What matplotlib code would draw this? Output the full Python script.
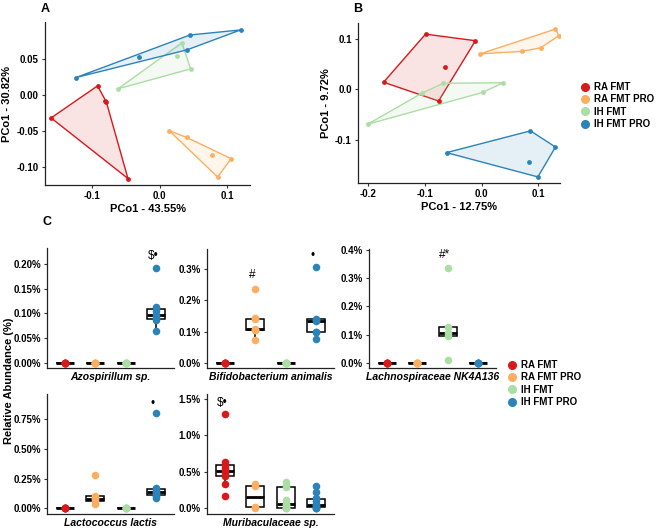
import matplotlib
matplotlib.use('Agg')
import matplotlib.pyplot as plt
from matplotlib.lines import Line2D
from matplotlib.patches import Polygon
from matplotlib.ticker import FuncFormatter
import numpy as np

plt.rcParams['font.family'] = ['Liberation Sans', 'DejaVu Sans']
plt.rcParams['font.weight'] = 'bold'

W, H = 657, 530

groups = ['RA FMT', 'RA FMT PRO', 'IH FMT', 'IH FMT PRO']
colors = ['#d7191c', '#fdae61', '#abdda4', '#2b83ba']

# PCoA panel A (one list per group, same order as groups)
pcoa_a_x = [
    [-0.161, -0.092, -0.081, -0.079, -0.047],
    [0.014, 0.040, 0.077, 0.106, 0.086],
    [-0.062, 0.033, 0.026, 0.046],
    [-0.124, -0.031, 0.045, 0.120, 0.041],
]
pcoa_a_y = [
    [-0.032, 0.0125, -0.008, -0.010, -0.116],
    [-0.0495, -0.059, -0.084, -0.0885, -0.114],
    [0.0083, 0.072, 0.054, 0.036],
    [0.024, 0.052, 0.083, 0.090, 0.0625],
]

# PCoA panel B
pcoa_b_x = [
    [-0.099, -0.011, -0.173, -0.076, -0.064],
    [-0.003, 0.071, 0.104, 0.130, 0.136],
    [-0.201, -0.068, 0.038, 0.002, -0.106],
    [-0.062, 0.086, 0.130, 0.099, 0.083],
]
pcoa_b_y = [
    [0.109, 0.096, 0.014, -0.023, 0.045],
    [0.070, 0.075, 0.082, 0.119, 0.106],
    [-0.069, 0.012, 0.013, -0.006, -0.008],
    [-0.125, -0.082, -0.114, -0.173, -0.143],
]

# relative abundance (%) per taxon, groups in order
taxa = ['Azospirillum sp.', 'Bifidobacterium animalis', 'Lachnospiraceae NK4A136',
        'Lactococcus lactis', 'Muribaculaceae sp.']
azospirillum = [[0.0] * 6, [0.0] * 6, [0.0] * 6,
                [0.065, 0.087, 0.090, 0.097, 0.105, 0.114, 0.191]]
bifidobacterium = [[0.0] * 6, [0.074, 0.104, 0.105, 0.107, 0.140, 0.142, 0.236],
                   [0.0] * 6, [0.076, 0.099, 0.100, 0.135, 0.138, 0.141, 0.305]]
lachnospiraceae = [[0.0] * 6, [0.0] * 6, [0.010, 0.096, 0.105, 0.127, 0.336], [0.0] * 6]
lactococcus = [[0.0] * 6, [0.040, 0.060, 0.075, 0.085, 0.105, 0.280], [0.0] * 6,
               [0.085, 0.100, 0.115, 0.130, 0.140, 0.155, 0.170, 0.800]]
muribaculaceae = [[0.17, 0.33, 0.44, 0.47, 0.50, 0.52, 0.55, 0.60, 0.64, 1.30],
                  [0.0, 0.02, 0.30, 0.34],
                  [0.0, 0.0, 0.01, 0.04, 0.06, 0.12, 0.29, 0.32, 0.355],
                  [0.0, 0.0, 0.01, 0.03, 0.04, 0.06, 0.10, 0.14, 0.22, 0.30]]
abundance = [azospirillum, bifidobacterium, lachnospiraceae, lactococcus, muribaculaceae]

# significance marks: (group index, text, y)
marks = [
    [(3, '$\u2022', 0.216)],
    [(1, '#', 0.279), (3, '\u2022', 0.340)],
    [(2, '#*', 0.382)],
    [(3, '\u2022', 0.880)],
    [(0, '$\u2022', 1.440)],
]
yticks = [
    [0.0, 0.05, 0.10, 0.15, 0.20],
    [0.0, 0.1, 0.2, 0.3],
    [0.0, 0.1, 0.2, 0.3, 0.4],
    [0.0, 0.25, 0.50, 0.75],
    [0.0, 0.5, 1.0, 1.5],
]
ylims = [(-0.010, 0.232), (-0.016, 0.3635), (-0.0176, 0.402), (-0.048, 0.963), (-0.078, 1.568)]
decimals = [2, 1, 1, 2, 1]
# panel boxes in pixels: left, top, right, bottom
boxes_c = [(47, 248, 174, 368), (207, 249, 334, 368), (369, 249, 496, 368),
           (47, 394, 174, 514), (207, 394, 334, 514)]


def rect(l, t, r, b):
    return [l / W, 1 - b / H, (r - l) / W, (b - t) / H]


def hull(xs, ys):
    pts = sorted(set(zip(xs, ys)))
    if len(pts) < 3:
        return pts

    def cross(o, a, b):
        return (a[0] - o[0]) * (b[1] - o[1]) - (a[1] - o[1]) * (b[0] - o[0])
    lower, upper = [], []
    for p in pts:
        while len(lower) >= 2 and cross(lower[-2], lower[-1], p) <= 0:
            lower.pop()
        lower.append(p)
    for p in reversed(pts):
        while len(upper) >= 2 and cross(upper[-2], upper[-1], p) <= 0:
            upper.pop()
        upper.append(p)
    return lower[:-1] + upper[:-1]


def style(ax, fs=7):
    for s in ['top', 'right']:
        ax.spines[s].set_visible(False)
    for s in ['left', 'bottom']:
        ax.spines[s].set_color('#222222')
        ax.spines[s].set_linewidth(0.9)
    ax.tick_params(length=2.5, width=0.8, color='#333333', labelsize=fs, pad=2)
    for lab in ax.get_xticklabels() + ax.get_yticklabels():
        lab.set_fontweight('bold')


fig = plt.figure(figsize=(W / 100, H / 100), dpi=100)

# ---- PCoA panels
pcoa = [(pcoa_a_x, pcoa_a_y, (45, 22, 250, 185), (-0.17, 0.134), (-0.125, 0.101),
         [-0.1, 0.0, 0.1], [-0.10, -0.05, 0.00, 0.05], 'PCo1 - 43.55%', 'PCo1 - 30.82%', 'A', 2),
        (pcoa_b_x, pcoa_b_y, (358, 23, 560, 183), (-0.218, 0.138), (-0.185, 0.131),
         [-0.2, -0.1, 0.0, 0.1], [-0.1, 0.0, 0.1], 'PCo1 - 12.75%', 'PCo1 - 9.72%', 'B', 1)]
for xs, ys, box, xl, yl, xt, yt, xlab, ylab, letter, dec in pcoa:
    ax = fig.add_axes(rect(*box))
    for gx, gy, c in zip(xs, ys, colors):
        poly = Polygon(hull(gx, gy), closed=True, facecolor=c, alpha=0.12, edgecolor='none')
        ax.add_patch(poly)
        poly = Polygon(hull(gx, gy), closed=True, facecolor='none', edgecolor=c, linewidth=1.0)
        ax.add_patch(poly)
        ax.scatter(gx, gy, s=12, color=c, zorder=3, linewidths=0)
    ax.set_xlim(*xl)
    ax.set_ylim(*yl)
    ax.set_xticks(xt)
    ax.set_yticks(yt)
    ax.xaxis.set_major_formatter(FuncFormatter(lambda v, p: f'{v:.1f}'))
    ax.yaxis.set_major_formatter(FuncFormatter(lambda v, p, d=dec: f'{v:.{d}f}'))
    style(ax, 7)
    ax.set_xlabel(xlab, fontsize=8, fontweight='bold', labelpad=2)
    ax.set_ylabel(ylab, fontsize=8, fontweight='bold', labelpad=3)
    fig.text(box[0] / W, 1 - 9 / H, letter, fontsize=9, fontweight='bold',
             ha='center', va='center')

# ---- abundance panels
for i, data in enumerate(abundance):
    ax = fig.add_axes(rect(*boxes_c[i]))
    pos = np.arange(1, 5)
    ax.boxplot(data, positions=pos, widths=0.6, showfliers=False, showcaps=False,
               patch_artist=True,
               boxprops=dict(facecolor='white', edgecolor='black', linewidth=1.1),
               whiskerprops=dict(color='black', linewidth=1.1),
               medianprops=dict(color='black', linewidth=2.0))
    for k, vals in enumerate(data):
        ax.scatter(np.full(len(vals), pos[k]), vals, s=30, color=colors[k], zorder=3, linewidths=0)
    for k, txt, yv in marks[i]:
        ax.text(pos[k] - 0.1, yv, txt, fontsize=8.5, ha='center', va='center', fontweight='normal')
    ax.set_xlim(0.4, 4.6)
    ax.set_ylim(*ylims[i])
    ax.set_yticks(yticks[i])
    ax.yaxis.set_major_formatter(FuncFormatter(lambda v, p, d=decimals[i]: f'{v:.{d}f}%'))
    ax.set_xticks([])
    style(ax, 7)
    ax.set_xlabel(taxa[i], fontsize=7.5, fontweight='bold', fontstyle='italic', labelpad=3)

fig.text(47 / W, 1 - 222 / H, 'C', fontsize=9, fontweight='bold', ha='center', va='center')
fig.text(9 / W, 1 - 381 / H, 'Relative Abundance (%)', fontsize=8, fontweight='bold',
         rotation=90, ha='center', va='center')

handles = [Line2D([], [], marker='o', linestyle='', color=c, markersize=5.5) for c in colors]
for x0, y0 in [(578, 82), (505, 360)]:
    fig.legend(handles, groups, loc='upper left', bbox_to_anchor=(x0 / W, 1 - y0 / H),
               frameon=False, handletextpad=0.1, labelspacing=0.25,
               borderaxespad=0, borderpad=0, handlelength=1.5,
               prop=dict(weight='bold', size=7))

fig.savefig('out.png', dpi=100)
